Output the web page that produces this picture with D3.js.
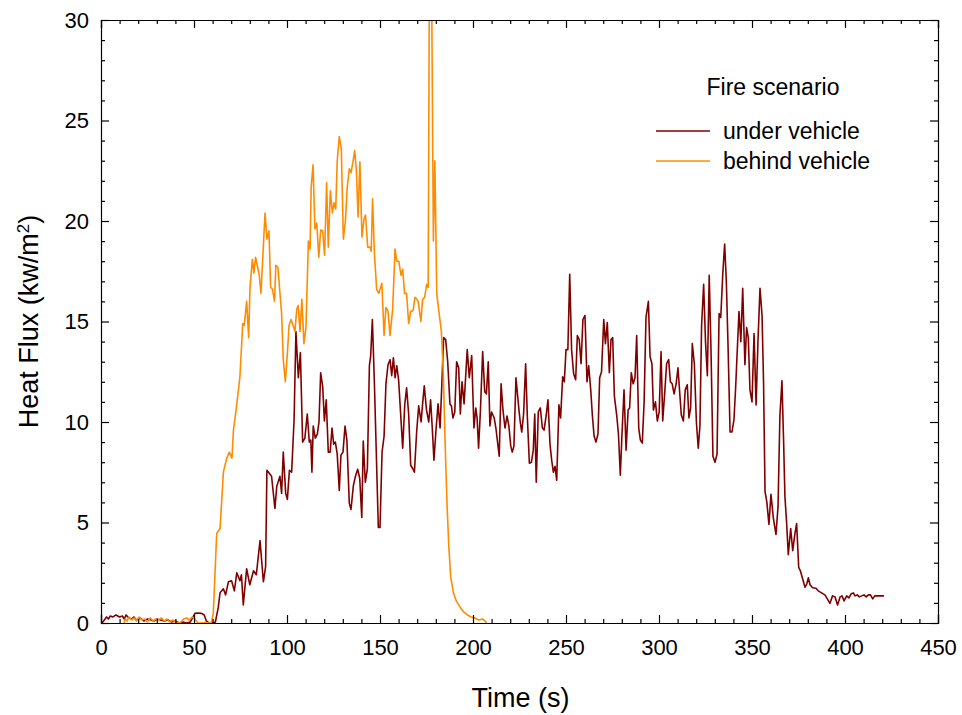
<!DOCTYPE html>
<html>
<head>
<meta charset="utf-8">
<script src="https://cdn.jsdelivr.net/npm/d3@7"></script>
<style>
  body { margin: 0; background: #fff; }
  svg { font-family: "Liberation Sans", Arial, sans-serif; }
</style>
</head>
<body>
<div id="chart"></div>
<script>
// under vehicle: time (s) / heat flux (kW/m2)
const underTime = [0,1,3,4,5,6.5,8,10,11.5,12.5,13.5,15,16.5,17.7,19,21,23,25,27,28.5,30,32,34,36,38,40,42,44,46,48,49.5,50.5,52,54,55.5,56.6,58,60,61.5,63,64,65.8,67,68.5,70.2,71.7,73,74.7,75.5,76.5,78.3,80,82,83.5,85.5,87.3,88.5,89.2,91.7,93.5,94.5,96.2,97.1,98,99.3,100.2,101.3,102.5,103.8,104.8,106.1,107.2,108.4,109.6,110.9,112,112.8,113.4,114.1,115.2,116.3,117.2,118.1,119.2,120.1,121.1,122.2,123.2,124.2,125.1,126,127,128.1,129,130.1,131.2,132.2,133.5,134.4,135.7,136.8,138,139.1,140.2,141,142.1,143.2,144.3,145,145.9,147,149.1,150,151.1,152.2,153.2,154.3,155.4,156.3,157.2,158.1,159,160,162.2,163.3,164.3,165.4,166.5,167.5,168.5,169.7,170.8,172.1,172.9,173.8,175,176.2,177.2,178.1,179,180.1,181.2,182.3,183.3,184.2,185.3,186.4,187.6,188.4,189.2,190.2,191.2,192.3,193.2,194.1,195.2,196.9,198,199.3,200.5,201.5,202.2,203,204,205.2,206.3,207.2,208.2,209.1,210,211.4,212.3,214.1,215.1,216.1,217.2,218.3,219.3,220.3,221.1,222,223.1,224.7,225.4,226.2,227.2,228.3,229.2,230.3,231.4,232.4,233.2,234,235.1,236.2,237.3,238.2,239.3,240.3,241.4,242.3,243.2,244.1,245,246.2,247.1,248.2,249.1,250,251,252,253,254.1,255.2,256.1,257.1,258.1,259.1,260.2,261.3,262.2,263.3,264.2,265.1,266.1,267.2,268.1,269.1,270.3,271.2,272.2,273.3,274.2,275.1,276,277.3,278.2,279.2,280.1,281.2,282.3,283.4,284.2,285.1,286.1,287.1,288,289.1,290,291,292,293,294.3,295.2,296.2,297,298.1,299.1,300.1,301.1,302,303.1,304.1,305.2,306.1,307.1,308.1,309.2,310.2,311.1,312,313.1,314.1,315.2,316.1,317,317.9,319,320.1,321.1,322,322.9,324,325,326,327,328,329,330.1,331.2,332.3,333.2,334.3,335.3,336.2,337.2,338.2,339.2,340.3,341.2,343,344,345,346.2,347.1,348,348.9,350,351.1,352.2,353.2,354.3,355.4,356.2,357,358,359.1,360.2,361.5,362.9,364,365,366.1,367,367.7,368.6,369.5,370.8,371.9,373,374,375.1,376,377.2,378.5,379.5,380.3,381.2,382.6,384.4,385.6,387.4,389.2,390.5,391.9,393.3,394.6,396,397.4,398.4,399.5,400.9,402.1,403.2,404.5,405.4,406.6,407.7,409,410.2,411.4,412.6,413.7,414.9,416,418.7,421];
const underFlux = [0,0.05,0.3,0.2,0.35,0.3,0.4,0.3,0.35,0.2,0.4,0.25,0.2,0.3,0.15,0.25,0.1,0.2,0.15,0.1,0.2,0.15,0.1,0.15,0.05,0.1,0,0.05,0,0.05,0.3,0.48,0.5,0.48,0.4,0.1,0,0,0.05,0.75,1.5,1.7,1.4,2.05,2.1,1.6,2.5,2.1,2.4,0.9,2.7,1.9,2.6,2.4,4.1,2.05,2.8,7.6,7.3,5.7,6.8,7.3,6.45,8.5,6.45,6.15,7.6,7.5,10.1,14.5,12.2,13.45,9.0,9.2,10.4,9.0,9.1,7.5,9.8,9.2,9.4,10.0,12.45,11.75,10.05,11.1,8.5,8.5,9.7,8.9,9.0,8.4,6.6,8.35,8.5,9.8,9.1,5.95,5.65,6.85,7.3,7.65,7.2,5.25,9.05,7.0,7.65,12.8,13.3,15.1,11.9,4.75,4.75,8.5,9.3,11.9,12.85,13.1,12.3,13.2,12.2,12.8,12.1,8.7,10.85,11.7,10.4,7.85,7.7,7.5,9.5,10.8,10.0,10.9,11.8,10.6,10.0,11.1,9.7,8.1,9.6,10.9,9.7,12.0,14.2,14.1,13.0,10.9,10.8,10.2,10.5,13.0,12.7,10.4,12.0,10.9,13.6,12.2,13.3,9.7,10.7,10.2,8.7,10.6,13.5,11.5,11.4,13.0,9.8,10.5,10.2,9.7,8.3,11.9,10.6,9.7,10.3,9.8,8.8,8.5,8.8,12.2,10.6,10.0,9.5,10.4,12.9,10.3,7.95,8.0,8.6,10.4,7.0,10.5,10.7,9.7,9.6,10.3,11.1,8.9,8.1,7.5,7.8,7.1,10.85,10.2,12.25,12.0,13.6,13.6,17.35,13.6,12.4,12.1,14.3,14.1,12.9,15.1,15.3,12.0,12.8,11.6,10.3,9.3,9.0,9.4,12.2,12.5,15.1,13.9,14.95,12.45,14.1,14.2,11.3,10.3,9.4,7.35,9.4,11.6,8.6,10.6,10.7,12.45,11.9,12.2,14.3,9.7,9.1,8.95,11.0,15.2,16.0,13.25,12.9,10.6,11.0,10.05,10.5,13.5,10.05,11.5,12.9,13.1,12.0,11.9,11.4,11.9,12.7,11.5,10.35,10.05,11.6,11.85,10.2,10.7,13.9,12.9,10.0,8.7,9.8,14.8,16.85,14.0,12.3,17.3,13.4,8.3,8.0,8.4,15.4,15.2,17.4,18.85,17.0,13.5,9.5,9.5,10.1,11.7,15.5,14.0,16.65,12.85,14.7,14.2,11.6,11.0,14.4,10.85,14.0,16.65,15.3,12.0,6.55,6.0,4.9,6.4,5.2,4.4,5.8,10.3,12.05,9.0,6.3,5.0,3.4,4.7,3.6,4.4,4.95,2.77,2.6,2.2,1.78,1.95,2.25,1.9,1.75,1.73,1.6,1.5,1.4,1.2,0.98,1.35,1.3,0.9,1.3,1.35,1.1,1.35,1.25,1.44,1.5,1.35,1.4,1.3,1.35,1.4,1.3,1.4,1.4,1.2,1.35,1.35,1.35];

// behind vehicle
const behindTime = [12.4,13,14,15,16.5,18,19,20.5,22,23.5,25,26.5,28,29.5,31,32.5,34,35.5,37,38.5,40,41.5,43,44.5,46,47.5,49,50.5,52,54,56,58,59.5,60.4,62.2,64,65.8,67.6,69,70.4,71.2,72.5,74.7,76.2,77,78.3,79.4,80.1,81.4,82.2,83.1,84.2,85.1,86,88.2,89.2,90.3,91.2,92.2,93.3,94,95.1,97.1,98,99.1,100.2,101.1,102.2,103.3,104.3,105.2,106,107,108,109.1,110.2,111.5,112.4,113,114,115,116,117.1,118.1,119.2,120.2,121.3,122.2,123.3,124.4,125.3,126.2,127,128.1,129.2,130.3,131.4,132.4,133.5,134.4,135.4,136.4,137.3,138.2,139.2,140.3,141.4,142.2,143.4,144.6,145.3,146,147,148.2,149.4,151,152.2,153.2,154.3,155.4,156.8,158.1,159,160.1,161.3,162.2,163.2,164.3,165.4,166.5,167.8,168.8,169.5,170.5,172,172.9,174,175.1,175.9,176.5,177.8,178.7,179.5,180.5,181.4,183,184,185,186,187,188,189.5,191,193,195,197,199,201,203,205,206.5,207.3];
const behindFlux = [0,0.2,0.1,0.3,0.15,0.25,0.1,0.3,0.15,0.2,0.05,0.25,0.1,0.2,0.15,0.25,0.1,0.2,0.05,0.15,0.05,0,0.05,0.2,0.25,0.15,0.3,0.2,0,0,0.02,0,0.05,0.5,4.45,4.7,7.5,8.2,8.5,8.2,9.6,10.5,12.25,14.9,14.8,16.0,14.2,16.7,18.1,17.4,18.2,17.7,17.3,16.4,20.4,19.1,19.5,16.7,16.6,16.0,17.8,17.7,15.4,13.1,12.0,13.4,14.8,15.1,14.8,14.5,15.6,15.8,14.5,16.1,13.9,14.7,19.0,18.6,21.7,22.8,19.6,19.9,18.2,19.55,19.5,18.3,21.9,18.7,21.5,20.4,20.9,20.6,23.0,24.2,23.6,19.1,20.0,21.7,22.6,22.4,22.9,23.5,22.5,20.2,22.95,19.2,20.1,20.3,18.7,18.7,18.5,21.1,18.4,16.6,16.4,16.9,14.3,15.7,15.5,14.3,15.6,18.6,18.0,18.0,17.3,17.6,16.4,16.4,14.9,15.5,15.55,16.2,16.15,16.0,15.0,16.1,16.2,16.85,16.7,31,31,19.0,23.0,16.4,15.7,14.5,12.5,9.0,6.0,3.8,2.3,1.5,1.1,0.8,0.55,0.4,0.3,0.25,0.15,0.2,0.1,0];

const xTicks = [0, 50, 100, 150, 200, 250, 300, 350, 400, 450];
const yTicks = [0, 5, 10, 15, 20, 25, 30];
const seriesNames = ["under vehicle", "behind vehicle"];
const seriesColors = ["#800000", "#ff8c00"];

const width = 962, height = 715;
const margin = {top: 20, right: 24, bottom: 92, left: 101};

const x = d3.scaleLinear().domain([0, 450]).range([margin.left, width - margin.right]);
const y = d3.scaleLinear().domain([0, 30]).range([height - margin.bottom, margin.top]);

const svg = d3.select("#chart").append("svg")
    .attr("width", width)
    .attr("height", height);

svg.append("defs").append("clipPath").attr("id", "plotclip")
  .append("rect")
    .attr("x", x(0)).attr("y", y(30))
    .attr("width", x(450) - x(0)).attr("height", y(0) - y(30));

// series lines
const series = [
  {name: seriesNames[0], color: seriesColors[0], t: underTime, v: underFlux},
  {name: seriesNames[1], color: seriesColors[1], t: behindTime, v: behindFlux}
];

const line = d3.line().x(d => x(d[0])).y(d => y(d[1]));

svg.append("g")
    .attr("clip-path", "url(#plotclip)")
  .selectAll("path")
  .data(series)
  .join("path")
    .attr("fill", "none")
    .attr("stroke", d => d.color)
    .attr("stroke-width", 1.6)
    .attr("stroke-linejoin", "round")
    .attr("d", d => line(d.t.map((t, i) => [t, d.v[i]])));

// axes, ticks pointing inward on all four sides
const minorX = d3.range(0, 451, 10).filter(v => v % 50 !== 0);
const minorY = d3.range(0, 31, 1).filter(v => v % 5 !== 0);

function axisWithMinor(axisFn, scale, major, minor, transform, pad) {
  const g = svg.append("g").attr("transform", transform);
  g.call(axisFn(scale).tickValues(major).tickSize(-8).tickPadding(pad)
      .tickFormat(pad ? d3.format("d") : ""));
  g.append("g").call(axisFn(scale).tickValues(minor).tickSize(-4).tickFormat(""))
    .select(".domain").remove();
  g.selectAll("line").attr("stroke", "#000").attr("stroke-width", 1.2);
  g.selectAll(".domain").attr("stroke", "#000").attr("stroke-width", 1.2);
  g.selectAll("text").attr("font-size", 22).attr("fill", "#000")
    .attr("font-family", "'Liberation Sans', Arial, sans-serif");
  return g;
}

axisWithMinor(d3.axisBottom, x, xTicks, minorX, `translate(0,${y(0)})`, 16);
axisWithMinor(d3.axisTop, x, xTicks, minorX, `translate(0,${y(30)})`, 0);
axisWithMinor(d3.axisLeft, y, yTicks, minorY, `translate(${x(0)},0)`, 12);
axisWithMinor(d3.axisRight, y, yTicks, minorY, `translate(${x(450)},0)`, 0);

// axis titles
svg.append("text")
    .attr("x", (x(0) + x(450)) / 2 + 1)
    .attr("y", 707)
    .attr("text-anchor", "middle")
    .attr("font-size", 27)
    .text("Time (s)");

const yl = svg.append("text")
    .attr("transform", `translate(38,${(y(0) + y(30)) / 2}) rotate(-90)`)
    .attr("text-anchor", "middle")
    .attr("font-size", 27);
yl.append("tspan").text("Heat Flux (kw/m");
yl.append("tspan").attr("baseline-shift", "super").attr("font-size", 17).text("2");
yl.append("tspan").text(")");

// legend
const legend = svg.append("g").attr("font-size", 23);
legend.append("text")
    .attr("x", 773).attr("y", 95)
    .attr("text-anchor", "middle")
    .text("Fire scenario");

const item = legend.selectAll("g.item")
  .data(series)
  .join("g")
    .attr("class", "item")
    .attr("transform", (d, i) => `translate(656,${131 + i * 30})`);

item.append("line")
    .attr("x1", 0).attr("x2", 54)
    .attr("stroke", d => d.color)
    .attr("stroke-width", 1.6);

item.append("text")
    .attr("x", 67).attr("dy", "0.35em")
    .text(d => d.name);
</script>
</body>
</html>
